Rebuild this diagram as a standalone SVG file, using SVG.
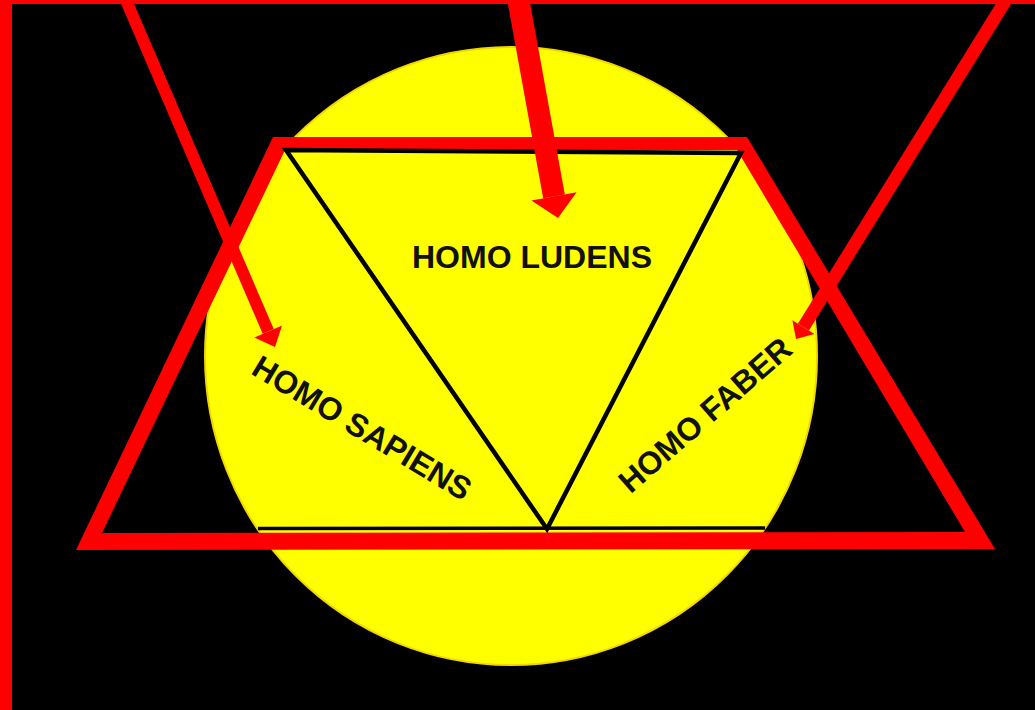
<svg xmlns="http://www.w3.org/2000/svg" width="1035" height="710" viewBox="0 0 1035 710">
<style>
.red{fill:#ff0000}
.lbl{font-family:"Liberation Sans",Arial,sans-serif;font-weight:bold;font-size:32px;fill:#111111;text-anchor:middle;dominant-baseline:central}
.blk{fill:none;stroke:#000000;stroke-width:4.5;stroke-linejoin:miter}
.shaft{stroke:#ff0000;stroke-linecap:butt}
</style>
<rect x="0" y="0" width="1035" height="710" fill="#000000"/>
<rect class="red" x="0" y="0" width="12" height="710"/>
<rect class="red" x="0" y="0" width="1035" height="4"/>
<g id="sun">
<ellipse cx="511" cy="356" rx="306" ry="309" fill="#ffff00" stroke="#f2d600" stroke-width="2"/>
</g>
<g id="base-line">
<line x1="258" y1="528.5" x2="765" y2="528" stroke="#000000" stroke-width="3.5"/>
</g>
<g id="trapezoid">
<path class="red" fill-rule="evenodd" d="M273,137 L747,137 L995,549 L76,550 Z M285,150 L737,150 L965,532 L102,533 Z"/>
</g>
<g id="triangle">
<polygon class="blk" points="286,150 741,153 547,529"/>
</g>
<g id="homo-ludens"><text class="lbl" x="532" y="257">HOMO LUDENS</text></g>
<g id="homo-sapiens"><text class="lbl" transform="translate(362,428) rotate(31)">HOMO SAPIENS</text></g>
<g id="homo-faber"><text class="lbl" transform="translate(705,415) rotate(-41)">HOMO FABER</text></g>
<g id="connectors">
<line class="shaft" x1="125" y1="-2" x2="268.2" y2="331.4" stroke-width="12"/>
<polygon class="red" points="275,347 282,325.4 254.4,337.4"/>
<line class="shaft" x1="518" y1="-2" x2="554" y2="196.4" stroke-width="22"/>
<polygon class="red" points="558,218 576.6,192.2 531.4,200.6"/>
<line class="shaft" x1="1007" y1="-2" x2="803.4" y2="327.1" stroke-width="13"/>
<polygon class="red" points="796,339 814.4,334 792.4,320.3"/>
</g>
</svg>
